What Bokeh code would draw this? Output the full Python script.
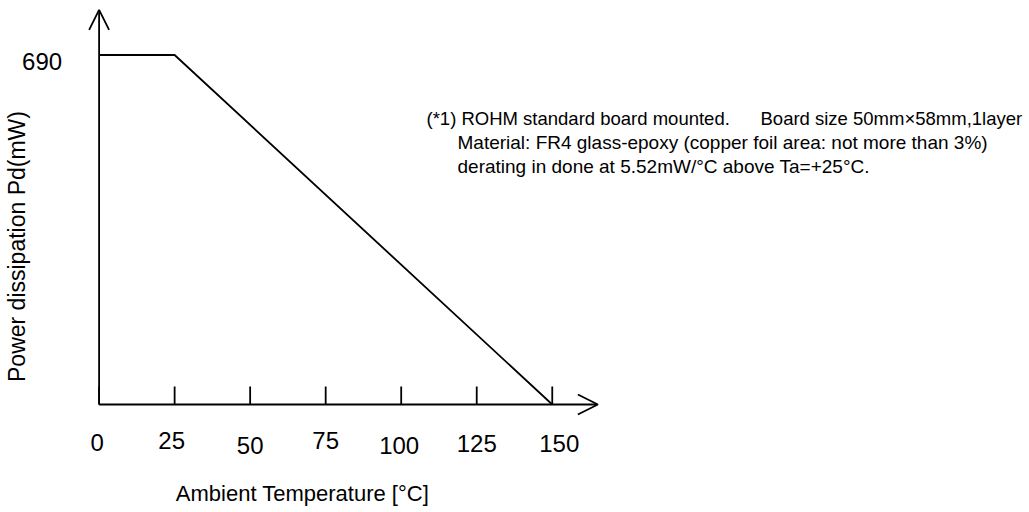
import math
from bokeh.plotting import figure
from bokeh.models import Range1d, Arrow, OpenHead, Label, ColumnDataSource
from bokeh.core.properties import value
from bokeh.embed import file_html
from bokeh.resources import INLINE

# ---- data ----
temps = [0, 25, 150]            # Ambient temperature (°C)
pd_mw = [690, 690, 0]           # Power dissipation (mW)
x_ticks = [0, 25, 50, 75, 100, 125, 150]
x_tick_labels = ["0", "25", "50", "75", "100", "125", "150"]
y_ticks = [690]
y_tick_labels = ["690"]
x_title = "Ambient Temperature [°C]"
y_title = "Power dissipation Pd(mW)"
note_lines = [
    "(*1) ROHM standard board mounted.",
    "Board size 50mm×58mm,1layer",
    "Material: FR4 glass-epoxy (copper foil area: not more than 3%)",
    "derating in done at 5.52mW/°C above Ta=+25°C.",
]

# ---- layout / style (pixels) ----
FONT = "Liberation Sans"
W, H = 1029, 512
ORIG_X, ORIG_Y = 98.6, 404.0       # pixel position of (0, 0)
SX, SY = 3.021, 0.5065             # pixels per data unit
X_END, Y_END = 165.1, 779.0        # axis arrow tips (data units)
LW = 1.8
TICK_PX = 18
x_lab_dx = [-2, -3, 0, 0, -2, 0, 7]
x_lab_dy = [38, 36, 41, 36, 41, 39, 39]

def dx(px):
    return (px - ORIG_X) / SX

def dy(py):
    return (ORIG_Y - py) / SY

p = figure(width=W, height=H, frame_width=W, frame_height=H,
           x_range=Range1d(dx(0), dx(W)), y_range=Range1d(dy(H), dy(0)),
           output_backend="svg", toolbar_location=None,
           x_axis_location=None, y_axis_location=None,
           min_border=0)
p.grid.visible = False
p.outline_line_color = None
p.background_fill_color = "white"
p.border_fill_color = "white"

# axes with open arrow heads
p.add_layout(Arrow(end=OpenHead(size=20, line_width=LW, line_color="black"),
                   x_start=0, y_start=0, x_end=X_END, y_end=0,
                   line_width=LW, line_color="black"))
p.add_layout(Arrow(end=OpenHead(size=20, line_width=LW, line_color="black"),
                   x_start=0, y_start=0, x_end=0, y_end=Y_END,
                   line_width=LW, line_color="black"))

# x ticks (pointing up into the plot)
p.segment(x0=x_ticks, y0=[0] * len(x_ticks), x1=x_ticks,
          y1=[TICK_PX / SY] * len(x_ticks), line_width=LW, line_color="black")

# tick labels
src = ColumnDataSource(dict(x=x_ticks, y=[0] * len(x_ticks), t=x_tick_labels,
                            xo=x_lab_dx, yo=x_lab_dy))
p.text(x="x", y="y", text="t", x_offset="xo", y_offset="yo", source=src,
       text_font=value(FONT), text_font_size="24px", text_align="center",
       text_baseline="middle", text_color="black")
p.text(x=[0], y=y_ticks, text=y_tick_labels, x_offset=-37, y_offset=6,
       text_font=value(FONT), text_font_size="24px", text_align="right",
       text_baseline="middle", text_color="black")

# derating curve
p.line(temps, pd_mw, line_width=LW, line_color="black")

# axis titles
p.add_layout(Label(x=dx(302), y=dy(493), text=x_title, text_font=FONT,
                   text_font_size="22px", text_align="center",
                   text_baseline="middle", text_color="black"))
p.add_layout(Label(x=dx(16), y=dy(246), text=y_title, text_font=FONT,
                   text_font_size="23px", text_align="center",
                   text_baseline="middle", angle=math.pi / 2,
                   text_color="black"))

# note block
note_pos = [(426, 118, 18.5), (760, 118, 18.5), (457, 142, 19), (457, 166, 19)]
for t, (nx, ny, fs) in zip(note_lines, note_pos):
    p.add_layout(Label(x=dx(nx), y=dy(ny), text=t, text_font=FONT,
                       text_font_size=f"{fs}px", text_align="left",
                       text_baseline="middle", text_color="black"))

open("out.html", "w").write(file_html(p, INLINE))
